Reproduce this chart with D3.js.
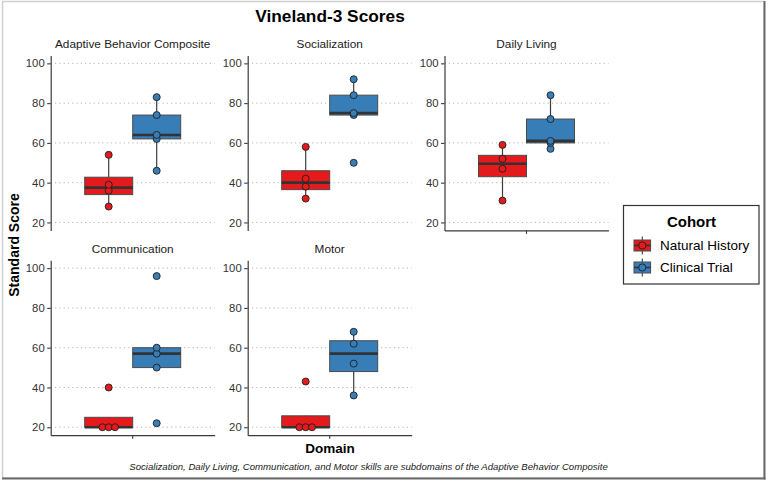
<!DOCTYPE html>
<html>
<head>
<meta charset="utf-8">
<script src="https://cdn.jsdelivr.net/npm/d3@7"></script>
<style>
  html, body { margin: 0; padding: 0; background: #fff; }
  svg { display: block; font-family: "Liberation Sans", Arial, Helvetica, sans-serif; }
</style>
</head>
<body>
<svg id="chart" width="768" height="483"></svg>
<script>
// ---------------- data ----------------
const panels = ["Adaptive Behavior Composite", "Socialization", "Daily Living", "Communication", "Motor"];
const cohorts = ["Natural History", "Clinical Trial"];
const cohortColors = ["#E41A1C", "#377EB8"];
const naturalHistory = [
  [28, 36, 39, 54],
  [32, 38, 42, 58],
  [31, 47, 52, 59],
  [20, 20, 20, 40],
  [20, 20, 20, 43]
];
const clinicalTrial = [
  [46, 62, 64, 74, 83],
  [50, 74, 75, 84, 92],
  [57, 60, 61, 72, 84],
  [22, 50, 57, 60, 96],
  [36, 52, 62, 68]
];
const yTicks = [20, 40, 60, 80, 100];
const yDomain = [16, 104];
const xCategory = ["Domain"];

// ---------------- layout ----------------
const W = 768, H = 483;
const panelW = 164, panelH = 175;
const colLefts = [50.7, 247.7, 444.5];
const rowTops = [55.4, 260.2];
const boxGroupW = 96;

const svg = d3.select("#chart");

// outer frame
svg.append("rect").attr("x", 2.5).attr("y", 1.5).attr("width", 761.5).attr("height", 476.5)
  .attr("fill", "none").attr("stroke", "#cfcfcf").attr("stroke-width", 1.5);
svg.append("line").attr("x1", 764.5).attr("x2", 764.5).attr("y1", 1).attr("y2", 479.5)
  .attr("stroke", "#6a6a6a").attr("stroke-width", 2);
svg.append("line").attr("x1", 2).attr("x2", 765.5).attr("y1", 478.5).attr("y2", 478.5)
  .attr("stroke", "#6a6a6a").attr("stroke-width", 2);

const series = [naturalHistory, clinicalTrial];

function boxStats(vals) {
  const s = vals.slice().sort(d3.ascending);
  const q1 = d3.quantile(s, 0.25), med = d3.quantile(s, 0.5), q3 = d3.quantile(s, 0.75);
  const iqr = q3 - q1;
  const lo = d3.min(s.filter(v => v >= q1 - 1.5 * iqr));
  const hi = d3.max(s.filter(v => v <= q3 + 1.5 * iqr));
  return { q1, med, q3, lo, hi, s };
}

panels.forEach((name, i) => {
  const row = Math.floor(i / 3), col = i % 3;
  const left = colLefts[col], top = rowTops[row];
  const g = svg.append("g").attr("transform", `translate(${left},${top})`);

  const y = d3.scaleLinear().domain(yDomain).range([panelH, 0]);
  const pad = (panelW - boxGroupW) / 2 / boxGroupW;
  const x = d3.scaleBand().domain(xCategory).range([0, panelW]).paddingInner(0).paddingOuter(pad);
  const xc = d3.scaleBand().domain(cohorts).range([0, x.bandwidth()]).padding(0);

  // grid
  g.append("g").selectAll("line").data(yTicks).join("line")
    .attr("x1", 0).attr("x2", panelW)
    .attr("y1", d => y(d)).attr("y2", d => y(d))
    .attr("stroke", "#b5b5b5").attr("stroke-width", 1)
    .attr("stroke-dasharray", "1.2,3.1");

  // y axis
  const ya = g.append("g").call(d3.axisLeft(y).tickValues(yTicks).tickSize(3.5).tickSizeOuter(0).tickPadding(2.5));
  ya.select(".domain").attr("stroke", "#3a3a3a").attr("stroke-width", 1.2);
  ya.selectAll(".tick line").attr("stroke", "#3a3a3a").attr("stroke-width", 1.1);
  ya.selectAll(".tick text").attr("fill", "#333").style("font-size", "11.3px");

  // x axis (bottom of each column)
  if (i >= 2) {
    const xa = g.append("g").attr("transform", `translate(0,${panelH})`)
      .call(d3.axisBottom(x).tickSize(3.5).tickSizeOuter(0).tickFormat(""));
    xa.select(".domain").attr("stroke", "#3a3a3a").attr("stroke-width", 1.2);
    xa.selectAll(".tick line").attr("stroke", "#3a3a3a").attr("stroke-width", 1.1);
  }

  // strip label
  svg.append("text").attr("x", left + panelW / 2).attr("y", top - 7)
    .attr("text-anchor", "middle").attr("fill", "#1a1a1a")
    .style("font-size", "11.8px").text(name);

  // boxes
  cohorts.forEach((c, ci) => {
    const st = boxStats(series[ci][i]);
    const bx = x(xCategory[0]) + xc(c);
    const bw = xc.bandwidth();
    const cx = bx + bw / 2;
    const bg = g.append("g");
    // whiskers
    bg.append("line").attr("x1", cx).attr("x2", cx).attr("y1", y(st.q3)).attr("y2", y(st.hi))
      .attr("stroke", "#3d3d3d").attr("stroke-width", 1.2);
    bg.append("line").attr("x1", cx).attr("x2", cx).attr("y1", y(st.q1)).attr("y2", y(st.lo))
      .attr("stroke", "#3d3d3d").attr("stroke-width", 1.2);
    bg.append("rect").attr("x", bx).attr("y", y(st.q3)).attr("width", bw)
      .attr("height", Math.max(0, y(st.q1) - y(st.q3)))
      .attr("fill", cohortColors[ci]).attr("stroke", "#4a4a4a").attr("stroke-width", 1);
    bg.append("line").attr("x1", bx).attr("x2", bx + bw).attr("y1", y(st.med)).attr("y2", y(st.med))
      .attr("stroke", "#333").attr("stroke-width", 2.6);

    // points, equal values spread horizontally
    const counts = d3.rollup(st.s, v => v.length, d => d);
    const seen = new Map();
    const dotD = 6.3;
    const pts = st.s.map(v => {
      const n = counts.get(v);
      const k = seen.get(v) || 0;
      seen.set(v, k + 1);
      return { v, off: (k - (n - 1) / 2) * dotD };
    });
    bg.selectAll("circle").data(pts).join("circle")
      .attr("cx", d => cx + d.off).attr("cy", d => y(d.v)).attr("r", 3.5)
      .attr("fill", cohortColors[ci]).attr("stroke", "#1f1f1f").attr("stroke-width", 0.9);
  });
});

// title
svg.append("text").attr("x", 330).attr("y", 22).attr("text-anchor", "middle")
  .style("font-size", "17.3px").style("font-weight", "bold").attr("fill", "#000")
  .text("Vineland-3 Scores");

// axis titles
svg.append("text").attr("transform", "translate(19,245) rotate(-90)").attr("text-anchor", "middle")
  .style("font-size", "14px").style("font-weight", "bold").attr("fill", "#000")
  .text("Standard Score");
svg.append("text").attr("x", 330).attr("y", 453).attr("text-anchor", "middle")
  .style("font-size", "13.5px").style("font-weight", "bold").attr("fill", "#000")
  .text("Domain");

// caption
svg.append("text").attr("x", 368.5).attr("y", 470).attr("text-anchor", "middle")
  .style("font-size", "9.6px").style("font-style", "italic").attr("fill", "#1a1a1a")
  .text("Socialization, Daily Living, Communication, and Motor skills are subdomains of the Adaptive Behavior Composite");

// legend
const lg = svg.append("g");
lg.append("rect").attr("x", 623.5).attr("y", 205.5).attr("width", 135.5).attr("height", 78.5)
  .attr("fill", "#fff").attr("stroke", "#333").attr("stroke-width", 1.2);
lg.append("text").attr("x", 691.5).attr("y", 226.5).attr("text-anchor", "middle")
  .style("font-size", "15px").style("font-weight", "bold").attr("fill", "#000").text("Cohort");
cohorts.forEach((c, ci) => {
  const cy = 245.5 + ci * 22;
  const kx = 642.3;
  lg.append("line").attr("x1", kx).attr("x2", kx).attr("y1", cy - 9).attr("y2", cy + 9)
    .attr("stroke", "#3d3d3d").attr("stroke-width", 1.1);
  lg.append("rect").attr("x", kx - 8.3).attr("y", cy - 5.5).attr("width", 16.6).attr("height", 11)
    .attr("fill", cohortColors[ci]).attr("stroke", "#4a4a4a").attr("stroke-width", 1);
  lg.append("line").attr("x1", kx - 8.3).attr("x2", kx + 8.3).attr("y1", cy).attr("y2", cy)
    .attr("stroke", "#333").attr("stroke-width", 1.6);
  lg.append("circle").attr("cx", kx).attr("cy", cy).attr("r", 3.6)
    .attr("fill", cohortColors[ci]).attr("stroke", "#1f1f1f").attr("stroke-width", 0.9);
  lg.append("text").attr("x", 660).attr("y", cy + 4.8)
    .style("font-size", "13.5px").attr("fill", "#000").text(c);
});
</script>
</body>
</html>
